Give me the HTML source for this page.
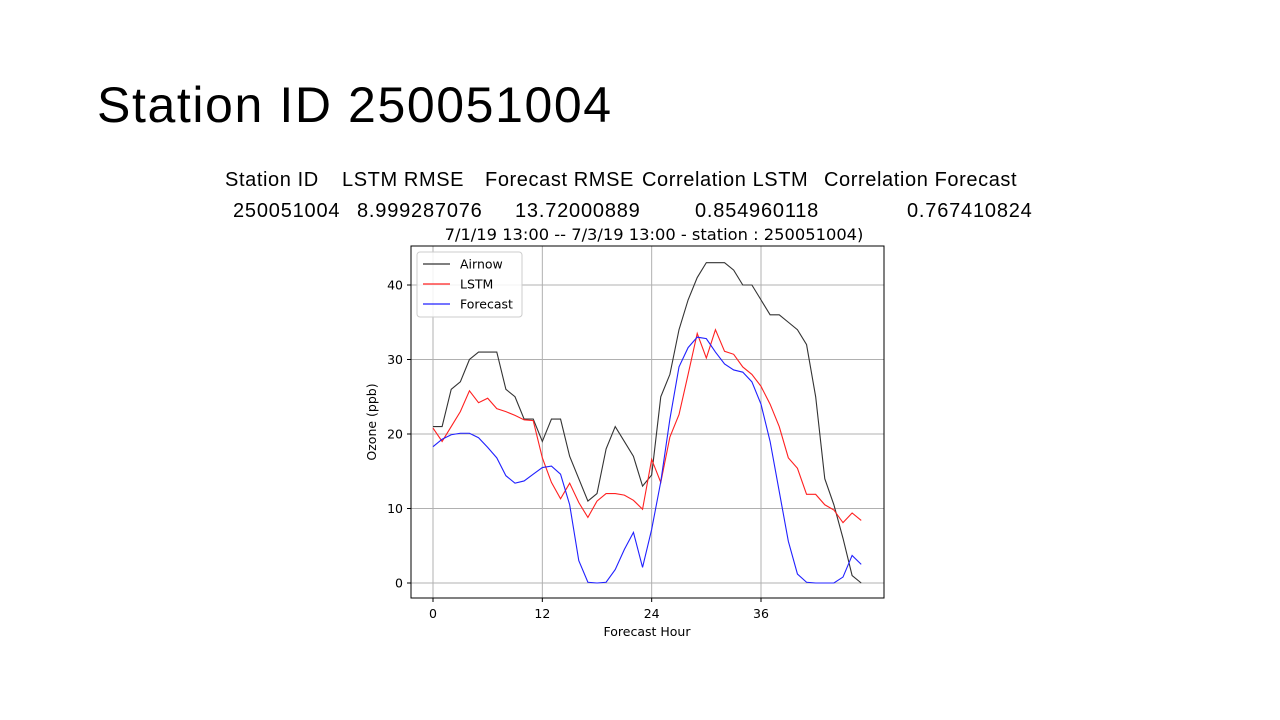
<!DOCTYPE html>
<html><head><meta charset="utf-8"><style>
body{margin:0;width:1280px;height:720px;background:#fff;position:relative;overflow:hidden;font-family:"Liberation Sans",sans-serif}
.t{position:absolute;white-space:nowrap;color:#000}
.h{font-size:20px;top:169px;letter-spacing:0.6px}
.v{font-size:20px;top:200px;letter-spacing:0.8px}
</style></head><body>
<div class="t" style="left:97px;top:76px;font-size:50px;letter-spacing:1.6px">Station ID 250051004</div>
<div>
<div class="t h" style="left:225px">Station ID</div>
<div class="t h" style="left:342px">LSTM RMSE</div>
<div class="t h" style="left:485px">Forecast RMSE</div>
<div class="t h" style="left:642px">Correlation LSTM</div>
<div class="t h" style="left:824px">Correlation Forecast</div>
<div class="t v" style="left:233px">250051004</div>
<div class="t v" style="left:357px">8.999287076</div>
<div class="t v" style="left:515px">13.72000889</div>
<div class="t v" style="left:695px">0.854960118</div>
<div class="t v" style="left:907px">0.767410824</div>
</div>
<svg id="chart" width="1280" height="720" style="position:absolute;left:0;top:0" font-family="DejaVu Sans, sans-serif"></svg>
<script>
const hours=[...Array(48).keys()];
const airnow=[21,21,26,27,30,31,31,31,26,25,22,22,19,22,22,17,14,11,12,18,21,19,17,13,14.5,25,28,34,38,41,43,43,43,42,40,40,38,36,36,35,34,32,25,14,10.5,6,1,0];
const lstm=[20.8,19,21,23,25.8,24.2,24.8,23.4,23,22.5,21.9,21.8,16.8,13.5,11.3,13.4,10.8,8.8,11,12,12,11.8,11.1,9.9,16.6,13.5,19.6,22.6,28,33.5,30.2,34,31.1,30.7,29,28,26.4,24,21,16.8,15.4,11.9,11.9,10.5,9.8,8.1,9.4,8.4];
const forecast=[18.3,19.3,19.9,20.1,20.1,19.5,18.2,16.8,14.4,13.4,13.7,14.6,15.5,15.7,14.6,10.5,3,0.1,0,0.1,1.8,4.5,6.8,2.1,7.2,13.6,22,29,31.6,33,32.8,31,29.4,28.6,28.3,27,24,19,12.3,5.6,1.2,0.1,0,0,0,0.8,3.7,2.5];
const xTicks=[0,12,24,36];
const yTicks=[0,10,20,30,40];
const seriesNames=["Airnow","LSTM","Forecast"];
const colors=["#333","#ff2020","#2020ff"];
const L=411,R=884,T=246,B=598;
const X=h=>433+h*(761-433)/36;
const Y=v=>583-v*(583-285)/40;
const svg=document.getElementById('chart');
const NS='http://www.w3.org/2000/svg';
function mk(tag,at,txt){const e=document.createElementNS(NS,tag);for(const k in at)e.setAttribute(k,at[k]);if(txt!=null)e.textContent=txt;svg.appendChild(e);return e;}
xTicks.forEach(t=>{
 const g=mk('line',{x1:X(t),x2:X(t),y1:T,y2:B,stroke:'#b0b0b0','stroke-width':1});
 
 
 mk('line',{x1:X(t),x2:X(t),y1:B,y2:B+4,stroke:'#000'});
 const l=mk('text',{x:X(t),y:B+20,'font-size':12.5,'text-anchor':'middle'},t);
 
 
});
yTicks.forEach(t=>{
 const g=mk('line',{x1:L,x2:R,y1:Y(t),y2:Y(t),stroke:'#b0b0b0','stroke-width':1});
 
 
 mk('line',{x1:L-4,x2:L,y1:Y(t),y2:Y(t),stroke:'#000'});
 const l=mk('text',{x:L-8,y:Y(t)+4.5,'font-size':12.5,'text-anchor':'end'},t);
 
 
});
[airnow,lstm,forecast].forEach((s,i)=>{
 const p=mk('polyline',{points:s.map((v,j)=>X(hours[j])+','+Y(v)).join(' '),fill:'none',stroke:colors[i],'stroke-width':1.1});
 
 
});
const fr=mk('rect',{x:L,y:T,width:R-L,height:B-T,fill:'none',stroke:'#000','stroke-width':1});


const ct=mk('text',{x:654,y:240,'font-size':16.3,'text-anchor':'middle'},'7/1/19 13:00 -- 7/3/19 13:00 - station : 250051004)');


const xt=mk('text',{x:647,y:636,'font-size':12.5,'text-anchor':'middle'},'Forecast Hour');


const yt=mk('text',{x:376,y:422,'font-size':12.5,'text-anchor':'middle',transform:'rotate(-90 376 422)'},'Ozone (ppb)');


const lg=mk('rect',{x:417,y:252,width:105,height:65,rx:3,fill:'#fff','fill-opacity':0.85,stroke:'#ccc'});


seriesNames.forEach((n,i)=>{
 const y=264+i*20;
 mk('line',{x1:423,x2:450,y1:y,y2:y,stroke:colors[i],'stroke-width':1.2});
 const t=mk('text',{x:460,y:y+4.5,'font-size':12.5},n);
 
 
});
</script>
</body></html>
